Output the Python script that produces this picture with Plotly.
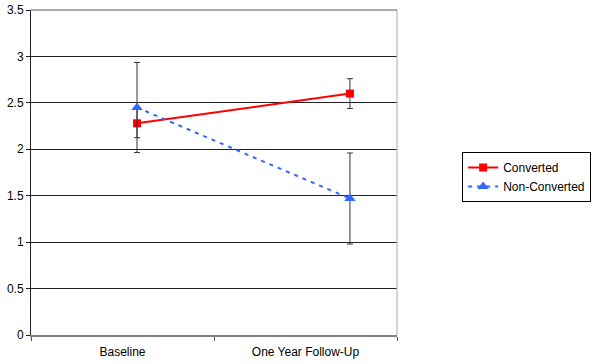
import plotly.graph_objects as go

categories = ["Baseline", "One Year Follow-Up"]
converted = [2.28, 2.60]
converted_err = [0.155, 0.16]
non_converted = [2.45, 1.47]
non_converted_err = [0.485, 0.49]
y_ticks = [0, 0.5, 1, 1.5, 2, 2.5, 3, 3.5]

font = dict(family="Liberation Sans, Arial, sans-serif", size=12, color="black")

fig = go.Figure()
fig.add_trace(go.Scatter(
    x=[0, 1], y=converted, name="Converted", mode="lines+markers",
    line=dict(color="#FF0000", width=2),
    marker=dict(symbol="square", size=8, color="#FF0000"),
    error_y=dict(type="data", array=converted_err, color="#333333", thickness=1, width=3),
))
fig.add_trace(go.Scatter(
    x=[0, 1], y=non_converted, name="Non-Converted", mode="lines+markers",
    line=dict(color="#3366FF", width=2, dash="4px,5px"),
    marker=dict(symbol="triangle-up", size=10, color="#3366FF"),
    error_y=dict(type="data", array=non_converted_err, color="#333333", thickness=1, width=3),
))

fig.update_layout(
    width=600, height=364,
    margin=dict(l=31, r=203, t=10, b=29, autoexpand=False),
    paper_bgcolor="white", plot_bgcolor="white",
    font=font,
    showlegend=True,
    legend=dict(x=1.178, y=0.563, xanchor="left", yanchor="top",
                bordercolor="black", borderwidth=1, bgcolor="white",
                font=font, tracegroupgap=0),
    xaxis=dict(range=[-0.498, 1.221], showticklabels=False, showgrid=False,
               zeroline=False, showline=False, ticks="", automargin=False),
    xaxis2=dict(overlaying="x", side="bottom", range=[-0.5, 1.5],
                tickmode="array", tickvals=[0, 1], ticktext=categories,
                ticks="", showgrid=False, zeroline=False, automargin=False,
                ticklabelstandoff=5,
                showline=True, linecolor="#808080", linewidth=2,
                minor=dict(tickmode="array", tickvals=[-0.5, 0.5, 1.5], ticks="outside",
                           ticklen=4, tickcolor="#555555", showgrid=False),
                tickfont=font),
    yaxis=dict(range=[0, 3.5], tickmode="array", tickvals=y_ticks,
               ticktext=[f"{v:g}" for v in y_ticks], automargin=False,
               showgrid=True, gridcolor="#222222", gridwidth=1,
               zeroline=False, showline=True, linecolor="#222222", linewidth=1,
               ticks="outside", ticklen=4, tickcolor="#222222", tickfont=font),
)
fig.add_trace(go.Scatter(x=[None], y=[None], xaxis="x2", showlegend=False, hoverinfo="skip"))
fig.add_shape(type="line", xref="paper", yref="paper", x0=0, x1=1, y0=1, y1=1,
              line=dict(color="#AAAAAA", width=2), layer="above")
fig.add_shape(type="line", xref="paper", yref="paper", x0=1, x1=1, y0=0, y1=1,
              line=dict(color="#AAAAAA", width=1), layer="above")

fig.write_html("out.html", config={"displayModeBar": False},
               post_script="document.body.style.margin='0';")
